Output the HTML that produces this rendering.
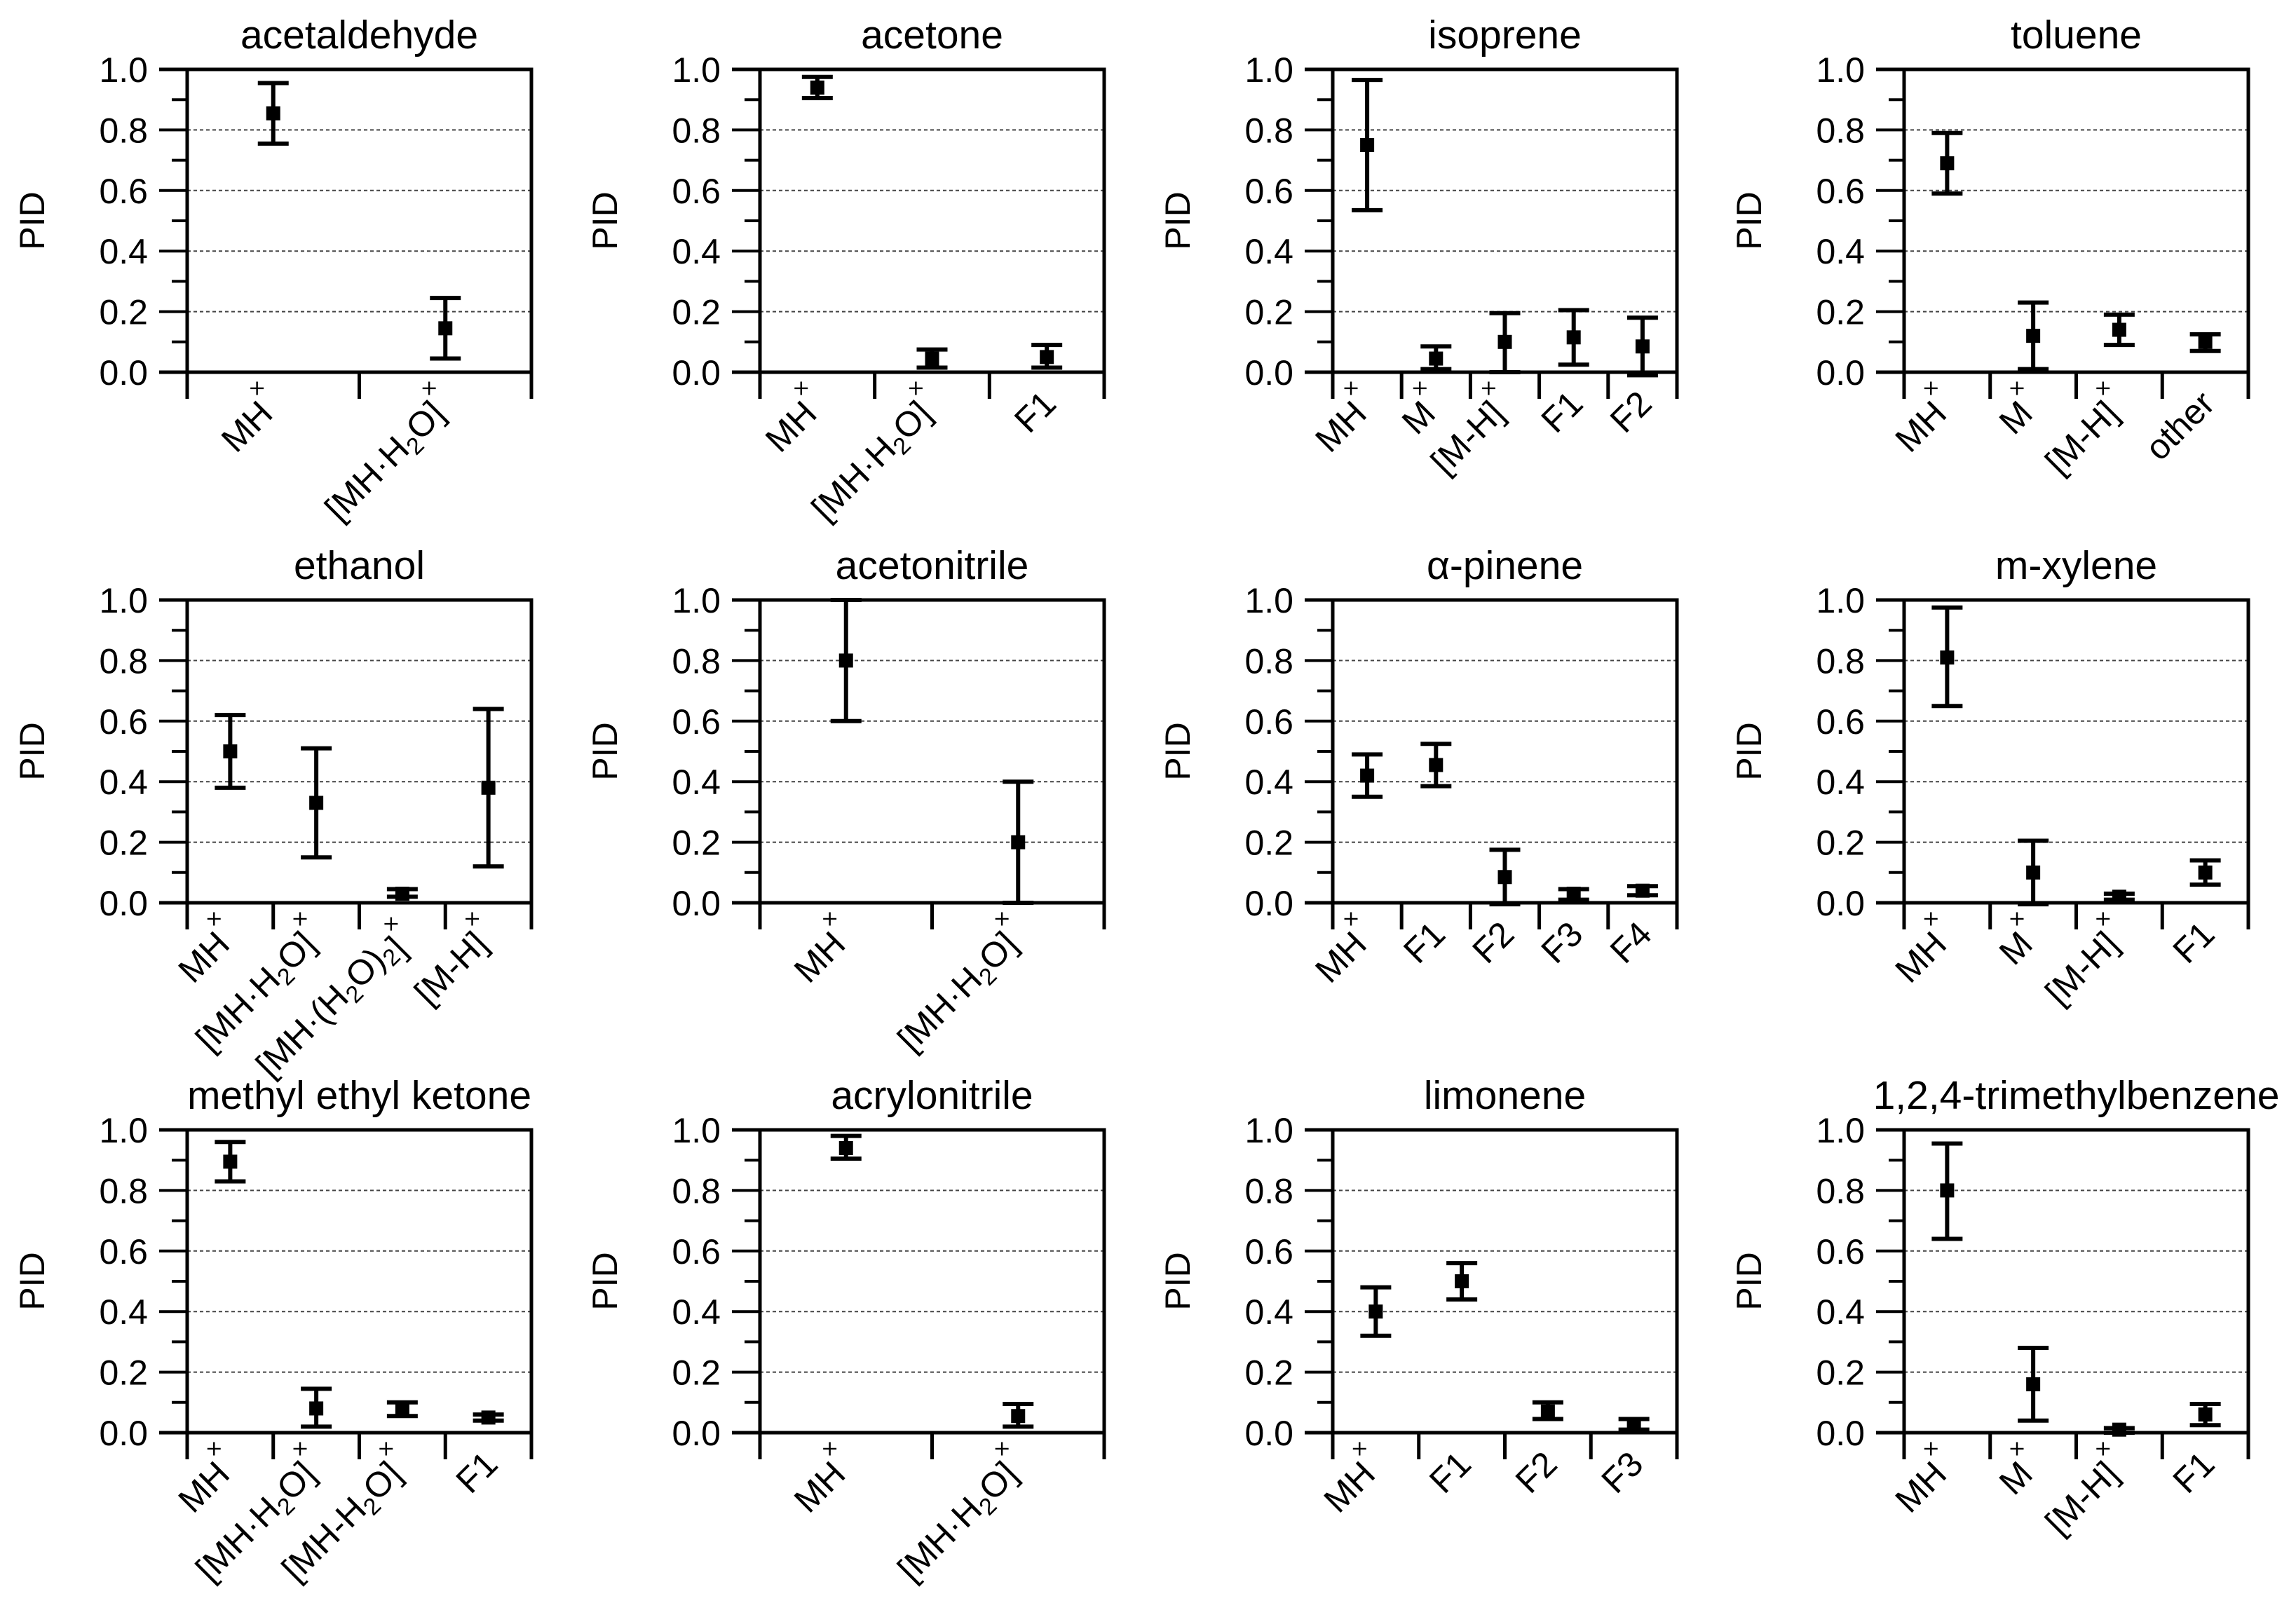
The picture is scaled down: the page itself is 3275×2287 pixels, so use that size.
<!DOCTYPE html>
<html><head><meta charset="utf-8"><style>
html,body{margin:0;padding:0;background:#fff;}
svg{display:block;font-family:"Liberation Sans",Arial,sans-serif;}
</style></head><body>
<svg id="fig" width="3275" height="2287" viewBox="0 0 3275 2287" xmlns="http://www.w3.org/2000/svg"></svg>
<script>
const titles=["acetaldehyde","acetone","isoprene","toluene","ethanol","acetonitrile","α-pinene","m-xylene","methyl ethyl ketone","acrylonitrile","limonene","1,2,4-trimethylbenzene"];
const categories=[
 ["MH+","[MH·H2O]+"],
 ["MH+","[MH·H2O]+","F1"],
 ["MH+","M+","[M-H]+","F1","F2"],
 ["MH+","M+","[M-H]+","other"],
 ["MH+","[MH·H2O]+","[MH·(H2O)2]+","[M-H]+"],
 ["MH+","[MH·H2O]+"],
 ["MH+","F1","F2","F3","F4"],
 ["MH+","M+","[M-H]+","F1"],
 ["MH+","[MH·H2O]+","[MH-H2O]+","F1"],
 ["MH+","[MH·H2O]+"],
 ["MH+","F1","F2","F3"],
 ["MH+","M+","[M-H]+","F1"]
];
const values=[[0.855,0.145],[0.94,0.045,0.05],[0.75,0.045,0.10,0.115,0.085],[0.69,0.12,0.14,0.10],[0.50,0.33,0.03,0.38],[0.80,0.20],[0.42,0.455,0.085,0.03,0.04],[0.81,0.10,0.02,0.10],[0.895,0.08,0.08,0.05],[0.94,0.055],[0.40,0.50,0.07,0.025],[0.80,0.16,0.01,0.06]];
const lows=[[0.755,0.045],[0.905,0.015,0.015],[0.535,0.01,0.0,0.025,-0.01],[0.59,0.01,0.09,0.07],[0.38,0.15,0.02,0.12],[0.60,0.0],[0.35,0.385,-0.005,0.01,0.025],[0.65,-0.005,0.01,0.06],[0.83,0.02,0.055,0.04],[0.905,0.02],[0.32,0.44,0.045,0.01],[0.64,0.04,0.0,0.025]];
const highs=[[0.955,0.245],[0.975,0.075,0.09],[0.965,0.085,0.195,0.205,0.18],[0.79,0.23,0.19,0.125],[0.62,0.51,0.045,0.64],[1.0,0.40],[0.49,0.525,0.175,0.045,0.055],[0.975,0.205,0.03,0.14],[0.96,0.145,0.10,0.06],[0.98,0.095],[0.48,0.56,0.10,0.045],[0.955,0.28,0.015,0.095]];
const yTicks=["0.0","0.2","0.4","0.6","0.8","1.0"];

const NS="http://www.w3.org/2000/svg";
const svg=document.getElementById('fig');
function mk(tag,attrs,parent){const e=document.createElementNS(NS,tag);for(const k in attrs)e.setAttribute(k,attrs[k]);(parent||svg).appendChild(e);return e;}
const colX=[267,1084,1901,2716], rowY=[99,856,1612], W=491, H=432;
function labelHTML(s){
  let sup=false;
  if(s.endsWith('+')){sup=true;s=s.slice(0,-1);}
  let h=s.replace(/H2O/g,'H<tspan font-size="34" dy="10">2</tspan><tspan dy="-10">O</tspan>');
  h=h.replace(/\)2/g,')<tspan font-size="34" dy="10">2</tspan><tspan dy="-10"></tspan>');
  if(sup)h+='<tspan font-size="34" dy="-34">×</tspan>';
  return h;
}
for(let p=0;p<12;p++){
  const x0=colX[p%4], y0=rowY[Math.floor(p/4)];
  const g=mk('g',{});
  
  
  const ys=v=>y0+H-v*H;
  const n=categories[p].length, cw=W/n, xs=i=>x0+cw*(i+0.5);
  for(let k=1;k<5;k++){const gl=mk('line',{x1:x0,x2:x0+W,y1:ys(k*0.2),y2:ys(k*0.2),stroke:'#444','stroke-width':2,'stroke-dasharray':'5,4'},g);
    }
  const fr=mk('path',{d:`M${x0-40},${y0}H${x0+W}V${y0+H+38}M${x0-40},${y0+H}H${x0+W}M${x0},${y0}V${y0+H+38}`,stroke:'#000','stroke-width':5,fill:'none'},g);
  
  for(let k=0;k<=10;k++){const v=k/10, major=k%2===0;
    const t=mk('line',{x1:x0-(major?40:22),x2:x0,y1:ys(v),y2:ys(v),stroke:'#000','stroke-width':4},g);
    
    if(major){const tl=mk('text',{x:x0-56,y:ys(v)+18,'font-size':50,'text-anchor':'end'},g);tl.textContent=yTicks[k/2];
      }
  }
  for(let i=1;i<n;i++){const s=mk('line',{x1:x0+cw*i,x2:x0+cw*i,y1:y0+H,y2:y0+H+38,stroke:'#000','stroke-width':5},g);
    }
  const tt=mk('text',{x:x0+W/2,y:y0-30,'font-size':57,'text-anchor':'middle'},g);tt.textContent=titles[p];
  
  const yl=mk('text',{x:0,y:0,'font-size':50,'text-anchor':'middle',transform:`translate(${x0-204},${y0+H/2}) rotate(-90)`},g);yl.textContent='PID';
  
  for(let i=0;i<n;i++){
    const cx=xs(i);
    const eb=mk('path',{d:`M${cx},${ys(lows[p][i])}V${ys(highs[p][i])}M${cx-22},${ys(lows[p][i])}H${cx+22}M${cx-22},${ys(highs[p][i])}H${cx+22}`,stroke:'#000','stroke-width':6,fill:'none'},g);
    
    const m=mk('rect',{x:cx-10,y:ys(values[p][i])-10,width:20,height:20,fill:'#000'},g);
    
    const lt=mk('text',{x:0,y:0,'font-size':50,'text-anchor':'end',transform:`translate(${cx+16},${y0+H+48}) rotate(-45)`},g);
    lt.innerHTML=labelHTML(categories[p][i]);
    
  }
}
</script>
</body></html>
